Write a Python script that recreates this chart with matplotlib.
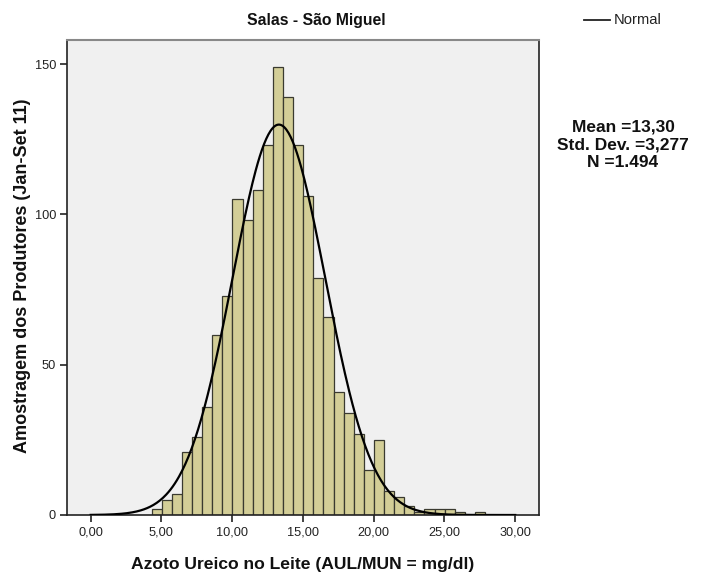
import numpy as np
import matplotlib
matplotlib.use("Agg")
import matplotlib.pyplot as plt

plt.rcParams['font.family'] = ['Liberation Sans', 'DejaVu Sans']

# histogram data
bin_start = 4.31
bin_width = 0.714
counts = [2, 5, 7, 21, 26, 36, 60, 73, 105, 98, 108, 123, 149, 139, 123,
          106, 79, 66, 41, 34, 27, 15, 25, 8, 6, 3, 1, 2, 2, 2, 1, 0, 1]
mean = 13.30
std = 3.277
n = 1494

x_ticks = [0, 5, 10, 15, 20, 25, 30]
x_tick_labels = ["0,00", "5,00", "10,00", "15,00", "20,00", "25,00", "30,00"]
y_ticks = [0, 50, 100, 150]


def main():
    fig = plt.figure(figsize=(7.07, 5.74), dpi=100)
    ax = fig.add_axes([0.0948, 0.1028, 0.6676, 0.8275])
    ax.set_facecolor('#F0F0F0')

    lefts = bin_start + bin_width * np.arange(len(counts))
    ax.bar(lefts, counts, width=bin_width, align='edge',
           color='#D3CE97', edgecolor='#3A3A30', linewidth=0.9, zorder=2)

    xs = np.linspace(0, 30, 400)
    ys = n * bin_width / (std * np.sqrt(2 * np.pi)) * np.exp(-0.5 * ((xs - mean) / std) ** 2)
    ax.plot(xs, ys, color='black', linewidth=1.6, zorder=3)

    ax.set_xlim(-1.67, 31.68)
    ax.set_ylim(0, 158)
    ax.set_xticks(x_ticks)
    ax.set_xticklabels(x_tick_labels)
    ax.set_yticks(y_ticks)
    ax.tick_params(axis='both', direction='out', length=5, width=1.2,
                   color='#222222', labelsize=9.2, labelcolor='#222222', pad=3)

    for side in ['left', 'bottom', 'right']:
        ax.spines[side].set_color('#222222')
        ax.spines[side].set_linewidth(1.2)
    ax.spines['top'].set_color('#888888')
    ax.spines['top'].set_linewidth(1.5)

    ax.set_xlabel("Azoto Ureico no Leite (AUL/MUN = mg/dl)", fontsize=12.6,
                  fontweight='bold', color='#111111')
    ax.xaxis.set_label_coords(0.5, -0.089)
    ax.set_ylabel("Amostragem dos Produtores (Jan-Set 11)", fontsize=13.0,
                  fontweight='bold', color='#111111')
    ax.yaxis.set_label_coords(-0.076, 0.503)

    fig.text(316 / 707, 1 - 20 / 574, "Salas - São Miguel", fontsize=11.3,
             fontweight='bold', ha='center', va='center', color='#111111')

    # legend
    fig.lines.append(plt.Line2D([584 / 707, 610 / 707], [1 - 20 / 574, 1 - 20 / 574],
                                color='#222222', linewidth=1.3, transform=fig.transFigure))
    fig.text(614 / 707, 1 - 20 / 574, "Normal", fontsize=10.6, va='center',
             ha='left', color='#222222')

    fig.text(623 / 707, 1 - 145 / 574,
             "Mean =13,30\nStd. Dev. =3,277\nN =1.494",
             fontsize=12.5, fontweight='bold', ha='center', va='center',
             linespacing=1.22, color='#111111')

    fig.savefig("out.png", dpi=100)


if __name__ == "__main__":
    main()
